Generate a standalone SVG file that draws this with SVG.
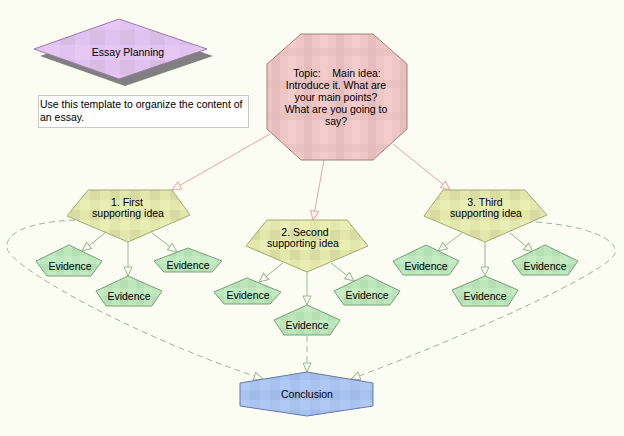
<svg xmlns="http://www.w3.org/2000/svg" width="624" height="436" viewBox="0 0 624 436">
<style>
text{font-family:"Liberation Sans",Arial,sans-serif;font-size:10.5px;fill:#000}
.c{text-anchor:middle}
.pk{fill:none;stroke:#e8a4a4;stroke-width:1}
.gr{fill:none;stroke:#9cb696;stroke-width:1}
.ds{fill:none;stroke:#9cb696;stroke-width:1;stroke-dasharray:6,4}
.ev{fill:url(#pGreen);stroke:#78a078;stroke-width:1}
.sup{fill:url(#pYel);stroke:#a4aa72;stroke-width:1}
</style>
<defs>
<pattern id="pPurple" patternUnits="userSpaceOnUse" width="30" height="30">
<rect width="30" height="30" fill="#e2c2f0"/><rect width="15" height="15" fill="#dabbe6"/><rect x="15" y="15" width="15" height="15" fill="#e7c8f4"/>
</pattern>
<pattern id="pPink" patternUnits="userSpaceOnUse" width="32" height="32">
<rect width="32" height="32" fill="#efc6c6"/><rect width="8" height="32" fill="#f4cccc"/><rect x="16" width="8" height="32" fill="#e6bcbc"/><rect y="16" width="32" height="8" fill="#e4baba" opacity="0.4"/>
</pattern>
<pattern id="pYel" patternUnits="userSpaceOnUse" width="20" height="20">
<rect width="20" height="20" fill="#e2e8ac"/><rect width="10" height="10" fill="#e8eeb4"/><rect x="10" y="10" width="10" height="10" fill="#d8dca2"/>
</pattern>
<pattern id="pGreen" patternUnits="userSpaceOnUse" width="16" height="16">
<rect width="16" height="16" fill="#bde6bc"/><rect width="8" height="8" fill="#c4ecc2"/><rect x="8" y="8" width="8" height="8" fill="#b4deb4"/>
</pattern>
<pattern id="pBlue" patternUnits="userSpaceOnUse" width="20" height="20">
<rect width="20" height="20" fill="#a9c3f0"/><rect width="10" height="10" fill="#b0c9f4"/><rect x="10" y="10" width="10" height="10" fill="#a1bbe8"/>
</pattern>
<marker id="aPink" markerUnits="userSpaceOnUse" markerWidth="12" markerHeight="10" viewBox="0 0 12 10" refX="10" refY="5" orient="auto">
<path d="M1,1 L10,5 L1,9 Z" fill="#fbfcf2" stroke="#e8a4a4"/>
</marker>
<marker id="aGreen" markerUnits="userSpaceOnUse" markerWidth="12" markerHeight="10" viewBox="0 0 12 10" refX="10" refY="5" orient="auto">
<path d="M1,1 L10,5 L1,9 Z" fill="#fbfcf2" stroke="#9cb696"/>
</marker>
</defs>
<rect width="624" height="436" fill="#fbfcf2"/>

<g id="title">
<polygon points="40,56 125,26 213,56 125,86" fill="#808080"/>
<polygon points="34,49 119,19 207,49 119,79" fill="url(#pPurple)" stroke="#9a7aa8"/>
<text class="c" x="128" y="56">Essay Planning</text>
</g>
<g id="note">
<rect x="38.5" y="95.5" width="210" height="32" fill="#ffffff" stroke="#c8c8c8"/>
<text x="40" y="107.5">Use this template to organize the content of</text>
<text x="40" y="121">an essay.</text>
</g>

<g id="connectors">
<line class="pk" x1="270" y1="134" x2="172" y2="190" marker-end="url(#aPink)"/>
<line class="pk" x1="324" y1="160" x2="313" y2="220" marker-end="url(#aPink)"/>
<line class="pk" x1="393" y1="144" x2="450" y2="190" marker-end="url(#aPink)"/>
<line class="gr" x1="105" y1="233" x2="82" y2="251" marker-end="url(#aGreen)"/>
<line class="gr" x1="128" y1="242" x2="128" y2="276" marker-end="url(#aGreen)"/>
<line class="gr" x1="152" y1="233" x2="177" y2="252" marker-end="url(#aGreen)"/>
<line class="gr" x1="283" y1="263" x2="259" y2="282" marker-end="url(#aGreen)"/>
<line class="gr" x1="307" y1="272" x2="307" y2="305" marker-end="url(#aGreen)"/>
<line class="gr" x1="331" y1="263" x2="354" y2="281" marker-end="url(#aGreen)"/>
<line class="gr" x1="462" y1="233" x2="438" y2="251" marker-end="url(#aGreen)"/>
<line class="gr" x1="485" y1="242" x2="485" y2="276" marker-end="url(#aGreen)"/>
<line class="gr" x1="510" y1="233" x2="533" y2="252" marker-end="url(#aGreen)"/>
<line class="ds" x1="307" y1="336" x2="307" y2="372" marker-end="url(#aGreen)"/>
<path class="ds" d="M75,220 C30,222 5,232 7,248 C9,266 130,335 263,379" marker-end="url(#aGreen)"/>
<path class="ds" d="M536,222 C585,226 618,238 615,253 C612,270 470,335 351,379" marker-end="url(#aGreen)"/>
</g>

<g id="topic">
<polygon points="301,34 373,34 407,64 407,129 373,160 301,160 267,129 267,64" fill="url(#pPink)" stroke="#a08080"/>
<text class="c" x="337" y="77" xml:space="preserve">Topic:    Main idea:</text>
<text class="c" x="336" y="89">Introduce it. What are</text>
<text class="c" x="336" y="101">your main points?</text>
<text class="c" x="336" y="113">What are you going to</text>
<text class="c" x="336" y="125">say?</text>
</g>

<g id="idea1">
<polygon class="sup" points="88,190 172,190 190,215 128,242 67,216"/>
<text class="c" x="127" y="206">1. First</text>
<text class="c" x="128" y="217">supporting idea</text>
</g>
<g id="idea2">
<polygon class="sup" points="267,220 347,220 368,246 307,272 246,246"/>
<text class="c" x="305" y="236">2. Second</text>
<text class="c" x="303" y="247">supporting idea</text>
</g>
<g id="idea3">
<polygon class="sup" points="443,190 525,190 547,215 485,242 424,216"/>
<text class="c" x="485" y="206">3. Third</text>
<text class="c" x="486" y="217">supporting idea</text>
</g>

<g id="ev1a">
<polygon class="ev" points="69,245 102,261 91,276 47,276 36,261"/>
<text class="c" x="70" y="270">Evidence</text>
</g>
<g id="ev1b">
<polygon class="ev" points="128,276 162,291 152,306 106,306 96,291"/>
<text class="c" x="129" y="300">Evidence</text>
</g>
<g id="ev1c">
<polygon class="ev" points="188,248 222,261 212,272 164,272 154,261"/>
<text class="c" x="188" y="269">Evidence</text>
</g>
<g id="ev2a">
<polygon class="ev" points="247,278 281,292 270,304 224,304 214,292"/>
<text class="c" x="248" y="299">Evidence</text>
</g>
<g id="ev2b">
<polygon class="ev" points="307,305 340,320 330,335 284,335 274,320"/>
<text class="c" x="307" y="329">Evidence</text>
</g>
<g id="ev2c">
<polygon class="ev" points="367,275 400,291 390,305 344,305 334,291"/>
<text class="c" x="367" y="299">Evidence</text>
</g>
<g id="ev3a">
<polygon class="ev" points="426,245 459,261 449,275 403,275 393,261"/>
<text class="c" x="426" y="270">Evidence</text>
</g>
<g id="ev3b">
<polygon class="ev" points="485,276 518,290 508,306 462,306 452,290"/>
<text class="c" x="485" y="300">Evidence</text>
</g>
<g id="ev3c">
<polygon class="ev" points="545,245 578,261 568,275 522,275 512,261"/>
<text class="c" x="545" y="270">Evidence</text>
</g>

<g id="conclusion">
<polygon points="307,372 373,383 373,406 307,416 240,406 240,383" fill="url(#pBlue)" stroke="#6878a8"/>
<text class="c" x="307" y="398">Conclusion</text>
</g>
</svg>
